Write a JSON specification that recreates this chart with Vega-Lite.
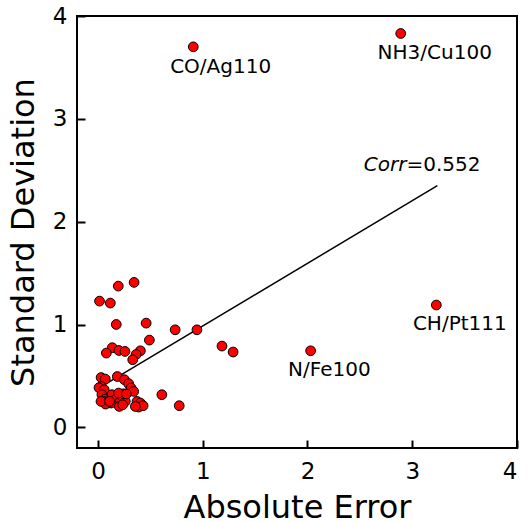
{
  "$schema": "https://vega.github.io/schema/vega-lite/v6.json",
  "width": 440,
  "height": 432,
  "autosize": {"type": "none"},
  "padding": {"left": 77, "top": 16, "right": 11, "bottom": 73},
  "config": {
    "font": "DejaVu Sans",
    "view": {"stroke": "black", "strokeWidth": 2},
    "axis": {"grid": false, "domain": false, "tickColor": "black", "tickWidth": 2, "labelFontSize": 23, "labelColor": "black", "titleFontSize": 32, "titleFontWeight": "normal", "titleColor": "black", "labelFont": "DejaVu Sans", "titleFont": "DejaVu Sans"}
  },
  "datasets": {
    "pts": [
      {"err": 0.91, "sd": 3.70}, {"err": 2.89, "sd": 3.83}, {"err": 3.23, "sd": 1.19}, {"err": 2.03, "sd": 0.745},
      {"err": 0.345, "sd": 1.41}, {"err": 0.194, "sd": 1.374}, {"err": 0.015, "sd": 1.228}, {"err": 0.118, "sd": 1.209},
      {"err": 0.175, "sd": 1.001}, {"err": 0.46, "sd": 1.014}, {"err": 0.737, "sd": 0.949}, {"err": 0.945, "sd": 0.949},
      {"err": 0.491, "sd": 0.849}, {"err": 1.184, "sd": 0.791}, {"err": 1.29, "sd": 0.733}, {"err": 0.137, "sd": 0.775},
      {"err": 0.08, "sd": 0.723}, {"err": 0.2, "sd": 0.748}, {"err": 0.258, "sd": 0.739}, {"err": 0.405, "sd": 0.745},
      {"err": 0.364, "sd": 0.709}, {"err": 0.332, "sd": 0.658}, {"err": 0.61, "sd": 0.318}, {"err": 0.776, "sd": 0.211},
      {"err": 0.03, "sd": 0.485}, {"err": 0.07, "sd": 0.47}, {"err": 0.185, "sd": 0.495}, {"err": 0.252, "sd": 0.464},
      {"err": 0.293, "sd": 0.425}, {"err": 0.316, "sd": 0.383}, {"err": 0.341, "sd": 0.35}, {"err": 0.032, "sd": 0.398},
      {"err": 0.01, "sd": 0.386}, {"err": 0.06, "sd": 0.366}, {"err": 0.038, "sd": 0.318}, {"err": 0.07, "sd": 0.276},
      {"err": 0.054, "sd": 0.253}, {"err": 0.1, "sd": 0.253}, {"err": 0.134, "sd": 0.318}, {"err": 0.166, "sd": 0.269},
      {"err": 0.197, "sd": 0.237}, {"err": 0.23, "sd": 0.301}, {"err": 0.261, "sd": 0.253}, {"err": 0.245, "sd": 0.327},
      {"err": 0.197, "sd": 0.334}, {"err": 0.125, "sd": 0.237}, {"err": 0.073, "sd": 0.227}, {"err": 0.204, "sd": 0.204},
      {"err": 0.236, "sd": 0.22}, {"err": 0.373, "sd": 0.253}, {"err": 0.405, "sd": 0.237}, {"err": 0.389, "sd": 0.198},
      {"err": 0.431, "sd": 0.211}, {"err": 0.357, "sd": 0.204}, {"err": 0.029, "sd": 0.253}, {"err": 0.111, "sd": 0.253},
      {"err": 0.271, "sd": 0.325}
    ],
    "fit": [{"err": 0.02, "sd": 0.39}, {"err": 3.24, "sd": 2.35}],
    "labels": [
      {"err": 1.171, "sd": 3.45, "txt": "CO/Ag110"},
      {"err": 3.215, "sd": 3.58, "txt": "NH3/Cu100"},
      {"err": 3.454, "sd": 0.943, "txt": "CH/Pt111"},
      {"err": 2.209, "sd": 0.496, "txt": "N/Fe100"}
    ]
  },
  "layer": [
    {
      "data": {"name": "fit"},
      "mark": {"type": "line", "color": "black", "strokeWidth": 1.5},
      "encoding": {
        "x": {"field": "err", "type": "quantitative", "scale": {"domain": [-0.2, 4], "nice": false, "zero": false},
          "axis": {"values": [0, 1, 2, 3, 4], "format": "d", "tickSize": -8, "labelPadding": 20, "title": "Absolute Error", "titleBaseline": "alphabetic", "titleY": 69, "titleX": 220}},
        "y": {"field": "sd", "type": "quantitative", "scale": {"domain": [-0.2, 4], "nice": false, "zero": false},
          "axis": {"values": [0, 1, 2, 3, 4], "format": "d", "tickSize": -8, "labelPadding": 18, "title": "Standard Deviation", "titleAngle": 270, "titleBaseline": "alphabetic", "titleX": -44, "titleY": 216}}
      }
    },
    {
      "data": {"name": "pts"},
      "mark": {"type": "circle", "size": 95, "fill": "#ff0000", "stroke": "black", "strokeWidth": 1, "opacity": 1},
      "encoding": {
        "x": {"field": "err", "type": "quantitative"},
        "y": {"field": "sd", "type": "quantitative"}
      }
    },
    {
      "data": {"name": "labels"},
      "mark": {"type": "text", "fontSize": 20, "align": "center", "baseline": "alphabetic", "color": "black"},
      "encoding": {
        "x": {"field": "err", "type": "quantitative"},
        "y": {"field": "sd", "type": "quantitative"},
        "text": {"field": "txt"}
      }
    },
    {
      "data": {"values": [{"err": 2.945, "sd": 2.49, "txt": "Corr"}]},
      "mark": {"type": "text", "fontSize": 20, "fontStyle": "italic", "align": "right", "baseline": "alphabetic", "color": "black"},
      "encoding": {
        "x": {"field": "err", "type": "quantitative"},
        "y": {"field": "sd", "type": "quantitative"},
        "text": {"field": "txt"}
      }
    },
    {
      "data": {"values": [{"err": 2.945, "sd": 2.49, "txt": "=0.552"}]},
      "mark": {"type": "text", "fontSize": 20, "align": "left", "baseline": "alphabetic", "color": "black"},
      "encoding": {
        "x": {"field": "err", "type": "quantitative"},
        "y": {"field": "sd", "type": "quantitative"},
        "text": {"field": "txt"}
      }
    }
  ]
}
